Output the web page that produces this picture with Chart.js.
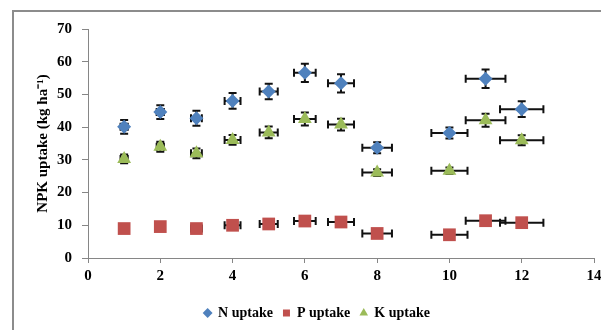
<!DOCTYPE html>
<html>
<head>
<meta charset="utf-8">
<script src="https://cdn.jsdelivr.net/npm/chart.js@4.4.0/dist/chart.umd.min.js"></script>
<style>
  html, body { margin: 0; padding: 0; background: #fff; overflow: hidden; }
  #wrap { position: absolute; left: 0; top: 0; width: 620px; height: 330px; }
</style>
</head>
<body>
<div id="wrap"><canvas id="npkChart"></canvas></div>
<script>
// treatment positions on the x axis
const xVals = [1, 2, 3, 4, 5, 6, 7, 8, 10, 11, 12];
const xErr  = [0.1, 0.1, 0.15, 0.22, 0.25, 0.3, 0.36, 0.41, 0.5, 0.55, 0.6];

// uptake values (kg/ha)
const nUptake = [40.1, 44.6, 42.7, 48.0, 50.9, 56.6, 53.4, 33.7, 38.2, 54.8, 45.5];
const pUptake = [9.0, 9.6, 9.0, 10.0, 10.4, 11.3, 11.0, 7.5, 7.1, 11.4, 10.8];
const kUptake = [30.3, 34.0, 32.0, 36.1, 38.4, 42.5, 40.8, 26.1, 26.7, 42.1, 36.0];

// vertical error half-widths
const nErr = [2.1, 2.1, 2.3, 2.4, 2.4, 2.8, 2.8, 1.7, 1.7, 2.8, 2.4];
const pErr = [0.8, 0.8, 0.8, 0.8, 0.8, 0.8, 0.8, 0.8, 0.8, 0.8, 0.8];
const kErr = [1.3, 1.5, 1.5, 1.5, 1.8, 2.0, 1.8, 1.0, 1.0, 2.0, 1.5];

const xTicks = [0, 2, 4, 6, 8, 10, 12, 14];
const yTicks = [0, 10, 20, 30, 40, 50, 60, 70];

function toPoints(vals, errs) {
  return xVals.map((x, i) => ({ x: x, y: vals[i], xe: xErr[i], ye: errs[i] }));
}

const axisColor = '#868686';
const serif = 'Liberation Serif, Times New Roman, serif';

// outer frame of the figure (runs off the right and bottom edges)
// + nudge the legend a bit to the right like in the original
const frame = {
  id: 'outerFrame',
  afterLayout(chart) {
    chart.legend.left += 40;
  },
  afterDraw(chart) {
    const c = chart.ctx;
    c.save();
    c.strokeStyle = '#8c8c8c';
    c.lineWidth = 2;
    c.beginPath();
    c.moveTo(13, 330); c.lineTo(13, 11); c.lineTo(620, 11);
    c.stroke();
    c.restore();
  }
};

// draw error bars behind the markers
const errorBars = {
  id: 'errorBars',
  beforeDatasetsDraw(chart) {
    const ctx = chart.ctx;
    const xs = chart.scales.x, ys = chart.scales.y;
    const cap = 4;
    ctx.save();
    ctx.strokeStyle = '#111';
    ctx.lineWidth = 2;
    chart.data.datasets.forEach(ds => {
      ds.data.forEach(p => {
        const cx = xs.getPixelForValue(p.x), cy = ys.getPixelForValue(p.y);
        const x0 = xs.getPixelForValue(p.x - p.xe), x1 = xs.getPixelForValue(p.x + p.xe);
        const y0 = ys.getPixelForValue(p.y - p.ye), y1 = ys.getPixelForValue(p.y + p.ye);
        ctx.beginPath();
        ctx.moveTo(x0, cy); ctx.lineTo(x1, cy);
        ctx.moveTo(x0, cy - cap); ctx.lineTo(x0, cy + cap);
        ctx.moveTo(x1, cy - cap); ctx.lineTo(x1, cy + cap);
        ctx.moveTo(cx, y0); ctx.lineTo(cx, y1);
        ctx.moveTo(cx - cap, y0); ctx.lineTo(cx + cap, y0);
        ctx.moveTo(cx - cap, y1); ctx.lineTo(cx + cap, y1);
        ctx.stroke();
      });
    });
    ctx.restore();
  }
};

const ctx = document.getElementById('npkChart').getContext('2d');
new Chart(ctx, {
  type: 'scatter',
  data: {
    datasets: [
      { label: 'N uptake', data: toPoints(nUptake, nErr), pointStyle: 'rectRot', pointRadius: 7,
        backgroundColor: '#4F81BD', borderColor: '#4F81BD', borderWidth: 0 },
      { label: 'P uptake', data: toPoints(pUptake, pErr), pointStyle: 'rect', pointRadius: 9,
        backgroundColor: '#C0504D', borderColor: '#C0504D', borderWidth: 0 },
      { label: 'K uptake', data: toPoints(kUptake, kErr), pointStyle: 'triangle', pointRadius: 8,
        backgroundColor: '#9BBB59', borderColor: '#9BBB59', borderWidth: 0 }
    ]
  },
  options: {
    responsive: true,
    maintainAspectRatio: false,
    animation: false,
    devicePixelRatio: 1,
    layout: { padding: { left: 0, right: 26, top: 29, bottom: 0 } },
    plugins: {
      tooltip: { enabled: false },
      legend: {
        position: 'bottom',
        labels: {
          usePointStyle: true,
          boxWidth: 7,
          boxHeight: 7,
          padding: 10,
          color: '#000',
          font: { family: serif, size: 14, weight: 'bold' }
        }
      }
    },
    scales: {
      x: {
        type: 'linear',
        min: 0, max: 14,
        afterBuildTicks: s => { s.ticks = xTicks.map(v => ({ value: v })); },
        afterFit: s => { s.height = 38; },
        ticks: { color: '#000', padding: 4, font: { family: serif, size: 15, weight: 'bold' } },
        grid: { drawOnChartArea: false, tickLength: 5, color: axisColor },
        border: { color: axisColor, width: 1 }
      },
      y: {
        min: 0, max: 70,
        afterBuildTicks: s => { s.ticks = yTicks.map(v => ({ value: v })); },
        afterFit: s => { s.width = 88; },
        ticks: { color: '#000', padding: 10, font: { family: serif, size: 15, weight: 'bold' } },
        grid: { drawOnChartArea: false, tickLength: 6, color: axisColor },
        border: { color: axisColor, width: 1 },
        title: {
          display: true,
          text: 'NPK uptake (kg ha\u207B\u00B9)',
          color: '#000',
          padding: { top: 34, bottom: 0 },
          font: { family: serif, size: 15, weight: 'bold' }
        }
      }
    }
  },
  plugins: [frame, errorBars]
});
</script>
</body>
</html>
